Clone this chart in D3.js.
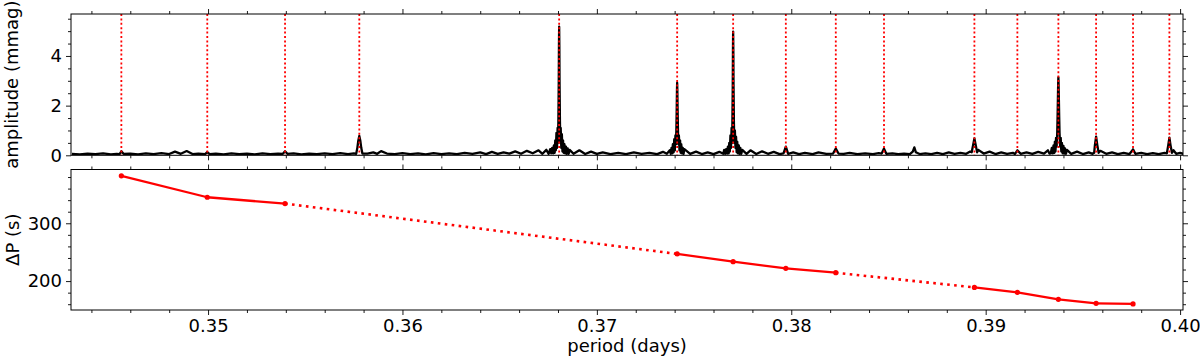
<!DOCTYPE html>
<html>
<head>
<meta charset="utf-8">
<script src="https://cdn.jsdelivr.net/npm/d3@7"></script>
<style>
  body { margin: 0; background: #fff; }
  svg text { font-family: "DejaVu Sans", sans-serif; }
</style>
</head>
<body>
<svg id="chart" width="1200" height="360"></svg>
<script>
// amplitude spectrum: [period (d), amplitude (mmag)]
const spectrum = [
  [0.3430,0.06],[0.3434,0.04],[0.3438,0.07],[0.3442,0.05],[0.3446,0.08],[0.3450,0.04],[0.3453,0.06],
  [0.34545,0.05],[0.34554,0.16],[0.34565,0.06],
  [0.3460,0.07],[0.3464,0.04],[0.3468,0.08],[0.3472,0.05],[0.3476,0.09],[0.3480,0.05],[0.3483,0.15],[0.3486,0.06],[0.3489,0.17],[0.3492,0.05],[0.3495,0.07],
  [0.34985,0.05],[0.34996,0.13],[0.35008,0.05],
  [0.3504,0.07],[0.3508,0.04],[0.3512,0.08],[0.3516,0.05],[0.3520,0.07],[0.3524,0.04],[0.3528,0.08],[0.3532,0.05],[0.3536,0.07],
  [0.35385,0.06],[0.35396,0.16],[0.35408,0.06],
  [0.3544,0.08],[0.3548,0.04],[0.3552,0.07],[0.3556,0.05],[0.3560,0.08],[0.3564,0.05],[0.3568,0.09],[0.3572,0.05],
  [0.35750,0.08],[0.35762,0.06],[0.35768,0.3],[0.35773,0.6],[0.35778,0.78],[0.35783,0.6],[0.35788,0.3],[0.35794,0.07],
  [0.3582,0.07],[0.3585,0.12],[0.3587,0.06],[0.3589,0.17],[0.3592,0.07],[0.3596,0.05],[0.3600,0.09],[0.3604,0.05],[0.3608,0.08],[0.3612,0.04],
  [0.3616,0.09],[0.3620,0.05],[0.3624,0.08],[0.3628,0.05],[0.3632,0.10],[0.3636,0.06],[0.3640,0.12],[0.3643,0.05],[0.3646,0.14],[0.3649,0.06],
  [0.3652,0.12],[0.3655,0.07],[0.3658,0.16],[0.3661,0.06],[0.3664,0.18],[0.3667,0.08],[0.3670,0.20],[0.3672,0.06],[0.3674,0.22],[0.36752,0.06],
  [0.36760,0.25],[0.36765,0.08],[0.36770,0.3],[0.36775,0.08],[0.36779,0.4],[0.36783,0.1],[0.36786,0.6],[0.36789,0.2],[0.36792,0.9],[0.36795,0.3],
  [0.36798,1.1],[0.36800,0.5],[0.36802,1.4],[0.36804,3.0],[0.36805,4.4],[0.36806,5.18],[0.36807,4.4],[0.36808,3.0],[0.36810,1.4],[0.36812,0.5],
  [0.36814,1.1],[0.36817,0.3],
  [0.36820,0.85],[0.36823,0.15],[0.36826,0.6],[0.36829,0.1],[0.36833,0.45],[0.36837,0.08],[0.36841,0.35],[0.36845,0.06],[0.36850,0.28],[0.36855,0.06],[0.36860,0.22],
  [0.3688,0.06],[0.3691,0.2],[0.3694,0.05],[0.3697,0.15],[0.3700,0.06],[0.3703,0.12],[0.3707,0.05],[0.3711,0.1],[0.3715,0.05],[0.3719,0.12],
  [0.3723,0.06],[0.3727,0.1],[0.3731,0.05],[0.3734,0.14],[0.3736,0.06],
  [0.37375,0.2],[0.37380,0.06],[0.37384,0.3],[0.37388,0.08],[0.37391,0.45],[0.37395,0.12],[0.37398,0.65],[0.37401,0.2],[0.37404,0.8],[0.37407,0.45],
  [0.37409,1.1],[0.37411,2.0],[0.37412,2.6],[0.37413,2.92],[0.37414,2.6],[0.37415,2.0],[0.37417,1.1],[0.37419,0.45],[0.37422,0.8],[0.37425,0.2],[0.37428,0.6],[0.37431,0.1],
  [0.37434,0.45],[0.37438,0.08],[0.37442,0.3],[0.37446,0.06],[0.37450,0.25],
  [0.3748,0.06],[0.3751,0.15],[0.3754,0.05],[0.3757,0.12],[0.3760,0.05],[0.3763,0.14],
  [0.37650,0.06],[0.37655,0.22],[0.37660,0.06],[0.37665,0.25],[0.37670,0.07],[0.37674,0.35],[0.37678,0.08],[0.37681,0.5],[0.37684,0.15],[0.37687,0.8],
  [0.37690,0.3],[0.37693,1.1],[0.37696,0.5],[0.37697,1.3],[0.37699,2.8],[0.37700,4.2],[0.37701,4.98],[0.37702,4.2],[0.37703,2.8],[0.37705,1.3],[0.37707,0.5],[0.37710,1.0],
  [0.37713,0.3],[0.37716,0.75],[0.37719,0.12],[0.37722,0.55],[0.37726,0.08],[0.37730,0.4],[0.37734,0.06],[0.37738,0.3],[0.37743,0.06],[0.37748,0.22],
  [0.3777,0.06],[0.3779,0.2],[0.3782,0.05],[0.3785,0.16],[0.3788,0.06],[0.3791,0.14],[0.3794,0.05],
  [0.37960,0.08],[0.37972,0.35],[0.37984,0.06],
  [0.3801,0.12],[0.3804,0.05],[0.3807,0.1],[0.3811,0.05],[0.3814,0.12],[0.3818,0.06],
  [0.38215,0.07],[0.38229,0.27],[0.38243,0.07],
  [0.3827,0.06],[0.3830,0.1],[0.3834,0.05],[0.3838,0.08],[0.3842,0.05],[0.3845,0.09],
  [0.38465,0.07],[0.38477,0.27],[0.38489,0.06],
  [0.3852,0.08],[0.3855,0.05],[0.3858,0.07],[0.3861,0.05],[0.38625,0.15],[0.38633,0.32],[0.38641,0.12],[0.3866,0.05],[0.3869,0.08],
  [0.3872,0.05],[0.3875,0.1],[0.3878,0.05],[0.3881,0.12],[0.3884,0.06],[0.3887,0.1],[0.3890,0.06],
  [0.38920,0.15],[0.38928,0.12],[0.38935,0.4],[0.38942,0.68],[0.38949,0.4],[0.38956,0.12],[0.38962,0.22],
  [0.3899,0.07],[0.3902,0.15],[0.3905,0.05],[0.3908,0.12],[0.3911,0.06],[0.3914,0.1],
  [0.39150,0.05],[0.39163,0.2],[0.3918,0.06],
  [0.3921,0.12],[0.3924,0.06],[0.3927,0.14],[0.3930,0.07],[0.3932,0.2],[0.39328,0.07],
  [0.39335,0.08],[0.39340,0.3],[0.39345,0.08],[0.39349,0.4],[0.39353,0.1],[0.39356,0.55],[0.39359,0.15],[0.39362,0.7],[0.39365,0.35],[0.39368,0.9],
  [0.39370,1.6],[0.39372,2.5],[0.39373,2.9],[0.39374,3.14],[0.39375,2.9],[0.39376,2.5],[0.39378,1.6],[0.39380,0.9],
  [0.39383,0.35],[0.39386,0.7],[0.39389,0.15],[0.39392,0.5],[0.39396,0.08],[0.39400,0.38],
  [0.39404,0.07],[0.39408,0.28],[0.39413,0.06],[0.39418,0.22],
  [0.3944,0.06],[0.3947,0.15],[0.3950,0.05],[0.3953,0.12],
  [0.39550,0.06],[0.39558,0.1],[0.39562,0.42],[0.39568,0.75],[0.39574,0.42],[0.39581,0.1],[0.39590,0.18],
  [0.3962,0.06],[0.3965,0.12],[0.3968,0.05],[0.3971,0.1],[0.3974,0.05],
  [0.39758,0.24],[0.3977,0.06],[0.3980,0.1],[0.3983,0.05],[0.3986,0.09],[0.3989,0.05],[0.3992,0.1],
  [0.39932,0.08],[0.39939,0.4],[0.39945,0.71],[0.39951,0.4],[0.39958,0.1],[0.39966,0.2],[0.3998,0.06],[0.4000,0.1],[0.4002,0.05]
];

// mode periods marked by the red dotted lines
const modePeriods = [0.34554, 0.34996, 0.35396, 0.35778, 0.36806, 0.37413, 0.37701, 0.37972,
                     0.38229, 0.38477, 0.38942, 0.39163, 0.39374, 0.39568, 0.39758, 0.39945];

// period spacing panel
const dpPeriods = [0.34554, 0.34996, 0.35396, 0.37413, 0.37701, 0.37972, 0.38229,
                   0.38942, 0.39163, 0.39374, 0.39568, 0.39758];
const dpValues = [382, 345, 334, 247, 233.5, 222, 214.5, 189, 180.5, 168.5, 161.5, 160.5];
// style of each link between consecutive points
const dpLinks = ['solid', 'solid', 'dotted', 'solid', 'solid', 'solid', 'dotted',
                 'solid', 'solid', 'solid', 'solid'];

// ticks
const xMajor = [0.35, 0.36, 0.37, 0.38, 0.39, 0.40];
const xLabels = ['0.35', '0.36', '0.37', '0.38', '0.39', '0.40'];
const xMinor = [0.344, 0.346, 0.348, 0.352, 0.354, 0.356, 0.358, 0.362, 0.364, 0.366, 0.368,
                0.372, 0.374, 0.376, 0.378, 0.382, 0.384, 0.386, 0.388, 0.392, 0.394, 0.396, 0.398];
const ampMajor = [0, 2, 4];
const ampMinor = [0.5, 1, 1.5, 2.5, 3, 3.5, 4.5, 5, 5.5];
const dpMajor = [200, 300];
const dpMinor = [160, 180, 220, 240, 260, 280, 320, 340, 360, 380];

const svg = d3.select('#chart');
const left = 71, right = 1183;
const ampTop = 14, ampBottom = 155.3;
const dpTop = 169.5, dpBottom = 310;
const red = '#ff0000';
const fontSize = 18;

const x = d3.scaleLinear().domain([0.34295, 0.40015]).range([left, right]);
const yAmp = d3.scaleLinear().domain([0, 5.69]).range([ampBottom, ampTop]);
const yDp = d3.scaleLinear().domain([150, 393]).range([dpBottom, dpTop]);

svg.append('defs').append('clipPath').attr('id', 'clipAmp')
  .append('rect').attr('x', left).attr('y', ampTop)
  .attr('width', right - left).attr('height', ampBottom - ampTop);

// ---- top panel: spectrum ----
svg.append('path')
  .datum(spectrum)
  .attr('clip-path', 'url(#clipAmp)')
  .attr('fill', 'none')
  .attr('stroke', '#000')
  .attr('stroke-width', 2.3)
  .attr('stroke-linejoin', 'round')
  .attr('d', d3.line().x(d => x(d[0])).y(d => yAmp(d[1])));

svg.append('g')
  .selectAll('line')
  .data(modePeriods)
  .join('line')
  .attr('x1', d => x(d)).attr('x2', d => x(d))
  .attr('y1', ampTop).attr('y2', ampBottom)
  .attr('stroke', red)
  .attr('stroke-width', 1.8)
  .attr('stroke-dasharray', '2,2.4');

// ---- bottom panel: period spacing ----
const dpPoints = dpPeriods.map((p, i) => [p, dpValues[i]]);
const dpLine = d3.line().x(d => x(d[0])).y(d => yDp(d[1]));

svg.append('g')
  .selectAll('path')
  .data(dpLinks)
  .join('path')
  .attr('d', (s, i) => dpLine([dpPoints[i], dpPoints[i + 1]]))
  .attr('fill', 'none')
  .attr('stroke', red)
  .attr('stroke-width', s => s === 'dotted' ? 2.6 : 2.3)
  .attr('stroke-dasharray', s => s === 'dotted' ? '2.6,4.4' : null);

svg.append('g')
  .selectAll('circle')
  .data(dpPoints)
  .join('circle')
  .attr('cx', d => x(d[0]))
  .attr('cy', d => yDp(d[1]))
  .attr('r', 2.6)
  .attr('fill', red);

// ---- axes ----
const drawAxes = (y, top, bottom, yMajor, yMinor, showX) => {
  const add = (axis, tx, ty) => {
    const g = svg.append('g')
      .attr('transform', `translate(${tx},${ty})`)
      .call(axis);
    g.select('.domain').remove();
    g.selectAll('line').attr('stroke', '#000').attr('stroke-width', 0.9);
    g.selectAll('text').attr('font-size', fontSize).attr('fill', '#000');
    return g;
  };
  add(d3.axisBottom(x).tickValues(xMajor).tickSize(5).tickPadding(4)
        .tickFormat((d, i) => showX ? xLabels[i] : ''), 0, bottom);
  add(d3.axisBottom(x).tickValues(xMinor).tickSize(3).tickFormat(''), 0, bottom);
  add(d3.axisTop(x).tickValues(xMajor).tickSize(5).tickFormat(''), 0, top);
  add(d3.axisTop(x).tickValues(xMinor).tickSize(3).tickFormat(''), 0, top);
  add(d3.axisLeft(y).tickValues(yMajor).tickSize(5).tickPadding(4).tickFormat(d3.format('d')), left, 0);
  add(d3.axisLeft(y).tickValues(yMinor).tickSize(3).tickFormat(''), left, 0);
  add(d3.axisRight(y).tickValues(yMajor).tickSize(5).tickFormat(''), right, 0);
  add(d3.axisRight(y).tickValues(yMinor).tickSize(3).tickFormat(''), right, 0);

  svg.append('rect')
    .attr('x', left).attr('y', top)
    .attr('width', right - left).attr('height', bottom - top)
    .attr('fill', 'none')
    .attr('stroke', '#000')
    .attr('stroke-width', 1);
};

drawAxes(yAmp, ampTop, ampBottom, ampMajor, ampMinor, false);
drawAxes(yDp, dpTop, dpBottom, dpMajor, dpMinor, true);

// ---- labels ----
svg.append('text')
  .attr('transform', `translate(18,${(ampTop + ampBottom) / 2}) rotate(-90)`)
  .attr('text-anchor', 'middle')
  .attr('font-size', fontSize)
  .text('amplitude (mmag)');

svg.append('text')
  .attr('transform', `translate(19,${(dpTop + dpBottom) / 2}) rotate(-90)`)
  .attr('text-anchor', 'middle')
  .attr('font-size', fontSize)
  .text('ΔP (s)');

svg.append('text')
  .attr('x', (left + right) / 2)
  .attr('y', 352)
  .attr('text-anchor', 'middle')
  .attr('font-size', fontSize)
  .text('period (days)');
</script>
</body>
</html>
